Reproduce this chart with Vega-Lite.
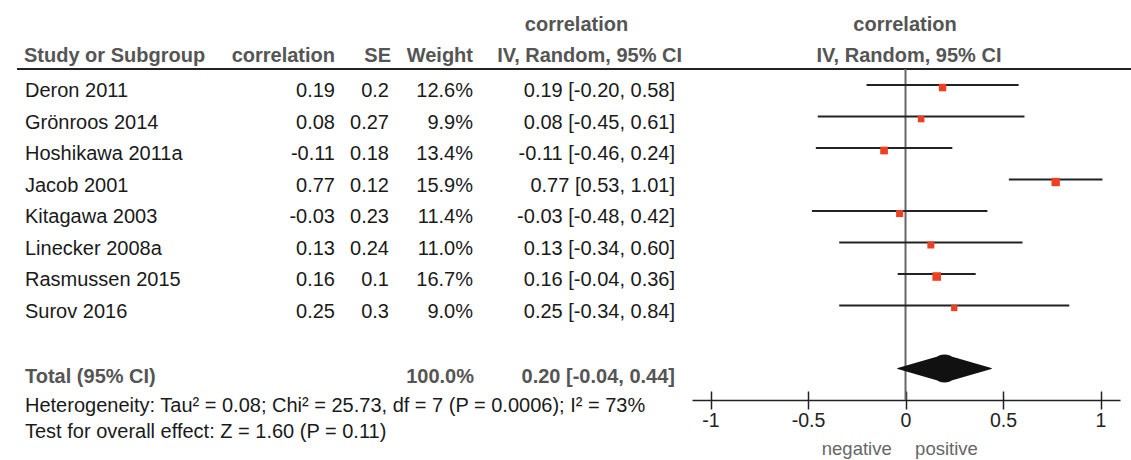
{
  "$schema": "https://vega.github.io/schema/vega-lite/v6.json",
  "width": 1131,
  "height": 400,
  "autosize": {"type": "none"},
  "padding": {"left": 0, "top": 0, "right": 0, "bottom": 60},
  "background": "white",
  "config": {
    "view": {"stroke": null},
    "axis": {"grid": false},
    "text": {"font": "Liberation Sans", "fontSize": 20, "baseline": "alphabetic", "dy": 12.4, "color": "#1a1a1a"}
  },
  "datasets": {
    "studies": [
      {"study": "Deron 2011", "row": 1, "r": 0.19, "se": 0.2, "weight": 0.126, "lo": -0.20, "hi": 0.58, "ci": "0.19 [-0.20, 0.58]"},
      {"study": "Grönroos 2014", "row": 2, "r": 0.08, "se": 0.27, "weight": 0.099, "lo": -0.45, "hi": 0.61, "ci": "0.08 [-0.45, 0.61]"},
      {"study": "Hoshikawa 2011a", "row": 3, "r": -0.11, "se": 0.18, "weight": 0.134, "lo": -0.46, "hi": 0.24, "ci": "-0.11 [-0.46, 0.24]"},
      {"study": "Jacob 2001", "row": 4, "r": 0.77, "se": 0.12, "weight": 0.159, "lo": 0.53, "hi": 1.01, "ci": "0.77 [0.53, 1.01]"},
      {"study": "Kitagawa 2003", "row": 5, "r": -0.03, "se": 0.23, "weight": 0.114, "lo": -0.48, "hi": 0.42, "ci": "-0.03 [-0.48, 0.42]"},
      {"study": "Linecker 2008a", "row": 6, "r": 0.13, "se": 0.24, "weight": 0.110, "lo": -0.34, "hi": 0.60, "ci": "0.13 [-0.34, 0.60]"},
      {"study": "Rasmussen 2015", "row": 7, "r": 0.16, "se": 0.1, "weight": 0.167, "lo": -0.04, "hi": 0.36, "ci": "0.16 [-0.04, 0.36]"},
      {"study": "Surov 2016", "row": 8, "r": 0.25, "se": 0.3, "weight": 0.090, "lo": -0.34, "hi": 0.84, "ci": "0.25 [-0.34, 0.84]"}
    ],
    "total": [
      {"label": "Total (95% CI)", "row": 10, "weight": 1.0, "est": 0.20, "lo": -0.04, "hi": 0.44, "ci": "0.20 [-0.04, 0.44]"}
    ],
    "one": [{}]
  },
  "resolve": {"scale": {"x": "independent"}},
  "layer": [
    {
      "layer": [
        {
          "data": {"name": "studies"},
          "mark": {"type": "text", "align": "left"},
          "encoding": {
            "x": {"datum": 25, "type": "quantitative", "scale": {"domain": [0, 1131], "nice": false, "zero": false}, "axis": null},
            "y": {"field": "row", "type": "quantitative", "scale": {"domain": [-1.7, 11], "reverse": true, "nice": false, "zero": false}, "axis": null},
            "text": {"field": "study", "type": "nominal"}
          }
        },
        {
          "data": {"name": "studies"},
          "mark": {"type": "text", "align": "right"},
          "encoding": {
            "x": {"datum": 335, "type": "quantitative"},
            "y": {"field": "row", "type": "quantitative"},
            "text": {"field": "r", "type": "nominal"}
          }
        },
        {
          "data": {"name": "studies"},
          "mark": {"type": "text", "align": "right"},
          "encoding": {
            "x": {"datum": 389, "type": "quantitative"},
            "y": {"field": "row", "type": "quantitative"},
            "text": {"field": "se", "type": "nominal"}
          }
        },
        {
          "data": {"name": "studies"},
          "mark": {"type": "text", "align": "right"},
          "encoding": {
            "x": {"datum": 473, "type": "quantitative"},
            "y": {"field": "row", "type": "quantitative"},
            "text": {"field": "weight", "type": "quantitative", "format": ".1%"}
          }
        },
        {
          "data": {"name": "studies"},
          "mark": {"type": "text", "align": "right"},
          "encoding": {
            "x": {"datum": 675, "type": "quantitative"},
            "y": {"field": "row", "type": "quantitative"},
            "text": {"field": "ci", "type": "nominal"}
          }
        },
        {
          "data": {"name": "total"},
          "mark": {"type": "text", "align": "left", "fontWeight": "bold", "color": "#555555", "dy": 14.5},
          "encoding": {
            "x": {"datum": 25, "type": "quantitative"},
            "y": {"field": "row", "type": "quantitative"},
            "text": {"field": "label", "type": "nominal"}
          }
        },
        {
          "data": {"name": "total"},
          "mark": {"type": "text", "align": "right", "fontWeight": "bold", "color": "#555555", "dy": 14.5},
          "encoding": {
            "x": {"datum": 474, "type": "quantitative"},
            "y": {"field": "row", "type": "quantitative"},
            "text": {"field": "weight", "type": "quantitative", "format": ".1%"}
          }
        },
        {
          "data": {"name": "total"},
          "mark": {"type": "text", "align": "right", "fontWeight": "bold", "color": "#555555", "dy": 14.5},
          "encoding": {
            "x": {"datum": 675, "type": "quantitative"},
            "y": {"field": "row", "type": "quantitative"},
            "text": {"field": "ci", "type": "nominal"}
          }
        },
        {
          "data": {"name": "one"},
          "mark": {"type": "text", "align": "left", "fontWeight": "bold", "color": "#555555", "text": "Study or Subgroup"},
          "encoding": {"x": {"datum": 24, "type": "quantitative"}, "y": {"datum": -0.13, "type": "quantitative"}}
        },
        {
          "data": {"name": "one"},
          "mark": {"type": "text", "align": "right", "fontWeight": "bold", "color": "#555555", "text": "correlation"},
          "encoding": {"x": {"datum": 335, "type": "quantitative"}, "y": {"datum": -0.13, "type": "quantitative"}}
        },
        {
          "data": {"name": "one"},
          "mark": {"type": "text", "align": "right", "fontWeight": "bold", "color": "#555555", "text": "SE"},
          "encoding": {"x": {"datum": 391, "type": "quantitative"}, "y": {"datum": -0.13, "type": "quantitative"}}
        },
        {
          "data": {"name": "one"},
          "mark": {"type": "text", "align": "right", "fontWeight": "bold", "color": "#555555", "text": "Weight"},
          "encoding": {"x": {"datum": 473, "type": "quantitative"}, "y": {"datum": -0.13, "type": "quantitative"}}
        },
        {
          "data": {"name": "one"},
          "mark": {"type": "text", "align": "right", "fontWeight": "bold", "color": "#555555", "text": "IV, Random, 95% CI"},
          "encoding": {"x": {"datum": 682, "type": "quantitative"}, "y": {"datum": -0.13, "type": "quantitative"}}
        },
        {
          "data": {"name": "one"},
          "mark": {"type": "text", "align": "center", "fontWeight": "bold", "color": "#555555", "text": "correlation"},
          "encoding": {"x": {"datum": 576.5, "type": "quantitative"}, "y": {"datum": -1.1, "type": "quantitative"}}
        },
        {
          "data": {"name": "one"},
          "mark": {"type": "text", "align": "center", "fontWeight": "bold", "color": "#555555", "text": "correlation"},
          "encoding": {"x": {"datum": 905, "type": "quantitative"}, "y": {"datum": -1.1, "type": "quantitative"}}
        },
        {
          "data": {"name": "one"},
          "mark": {"type": "text", "align": "center", "fontWeight": "bold", "color": "#555555", "text": "IV, Random, 95% CI"},
          "encoding": {"x": {"datum": 909, "type": "quantitative"}, "y": {"datum": -0.13, "type": "quantitative"}}
        },
        {
          "data": {"name": "one"},
          "mark": {"type": "text", "align": "left", "text": "Heterogeneity: Tau² = 0.08; Chi² = 25.73, df = 7 (P = 0.0006); I² = 73%"},
          "encoding": {"x": {"datum": 25, "type": "quantitative"}, "y": {"datum": 11, "type": "quantitative"}}
        },
        {
          "data": {"name": "one"},
          "mark": {"type": "text", "align": "left", "text": "Test for overall effect: Z = 1.60 (P = 0.11)"},
          "encoding": {"x": {"datum": 25, "type": "quantitative"}, "y": {"datum": 11.8, "type": "quantitative"}}
        },
        {
          "data": {"name": "one"},
          "mark": {"type": "rule", "color": "#222222", "strokeWidth": 2},
          "encoding": {
            "x": {"datum": 17, "type": "quantitative"},
            "x2": {"datum": 1131},
            "y": {"datum": 0.49, "type": "quantitative"}
          }
        }
      ]
    },
    {
      "resolve": {"axis": {"x": "independent"}},
      "layer": [
        {
          "data": {"name": "one"},
          "mark": {"type": "rule", "color": "#666666", "strokeWidth": 2},
          "encoding": {
            "x": {"datum": 0, "type": "quantitative", "scale": {"domain": [-1.095, 1.1], "range": [692, 1120], "nice": false, "zero": false}, "axis": null},
            "y": {"datum": 0.49, "type": "quantitative"},
            "y2": {"datum": 11}
          }
        },
        {
          "data": {"name": "studies"},
          "mark": {"type": "rule", "color": "#222222", "strokeWidth": 2, "strokeCap": "butt"},
          "encoding": {
            "x": {"field": "lo", "type": "quantitative", "axis": {"orient": "bottom", "values": [-1, -0.5, 0, 0.5, 1], "domain": false, "ticks": true, "tickSize": 18, "tickWidth": 1.5, "tickColor": "#222222", "offset": -9, "labelExpr": "'' + datum.value", "labelFont": "Liberation Sans", "labelFontSize": 19.5, "labelColor": "#222222", "labelPadding": 2, "labelFlush": false, "labelOverlap": false, "title": null, "grid": false}},
            "x2": {"field": "hi"},
            "y": {"field": "row", "type": "quantitative"}
          }
        },
        {
          "data": {"name": "studies"},
          "mark": {"type": "square", "color": "#ee3f22", "opacity": 1, "strokeWidth": 0, "yOffset": 2.5},
          "encoding": {
            "x": {"field": "r", "type": "quantitative", "axis": {"orient": "bottom", "domain": true, "domainColor": "#222222", "domainWidth": 1.5, "ticks": false, "labels": false, "title": null, "grid": false, "offset": 0}},
            "y": {"field": "row", "type": "quantitative"},
            "size": {"field": "weight", "type": "quantitative", "scale": {"domain": [0, 0.2], "range": [0, 88], "zero": true}, "legend": null}
          }
        },
        {
          "data": {"name": "total"},
          "transform": [{"fold": ["lo", "est", "hi"], "as": ["key", "value"]}],
          "mark": {"type": "trail", "color": "#111111"},
          "encoding": {
            "x": {"field": "value", "type": "quantitative", "axis": null},
            "y": {"field": "row", "type": "quantitative"},
            "order": {"field": "value", "type": "quantitative"},
            "size": {"condition": {"test": "datum.key === 'est'", "value": 28}, "value": 0}
          }
        },
        {
          "data": {"name": "one"},
          "mark": {"type": "text", "align": "center", "font": "Liberation Sans", "fontSize": 18.5, "color": "#666666", "text": "negative"},
          "encoding": {"x": {"datum": -0.25, "type": "quantitative", "axis": null}, "y": {"datum": 12.34, "type": "quantitative"}}
        },
        {
          "data": {"name": "one"},
          "mark": {"type": "text", "align": "center", "font": "Liberation Sans", "fontSize": 18.5, "color": "#666666", "text": "positive"},
          "encoding": {"x": {"datum": 0.21, "type": "quantitative", "axis": null}, "y": {"datum": 12.34, "type": "quantitative"}}
        }
      ]
    }
  ]
}
